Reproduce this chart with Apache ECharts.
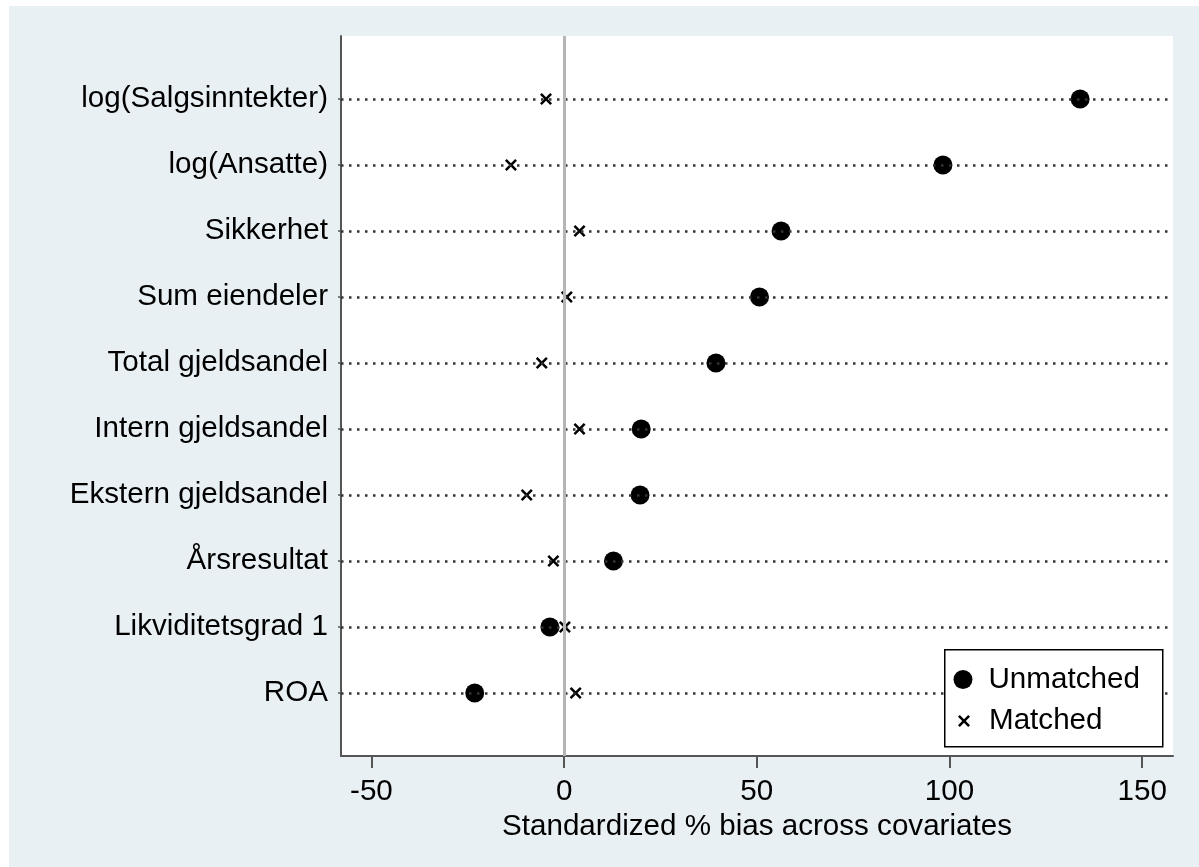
<!DOCTYPE html>
<html><head><meta charset="utf-8">
<script src="https://cdn.jsdelivr.net/npm/echarts@6/dist/echarts.min.js"></script>
<style>
html,body{margin:0;padding:0;background:#fff;}
#bg{position:absolute;left:9px;top:6px;width:1190px;height:861px;background:#e9f0f3;}
#c{position:absolute;left:0;top:0;width:1199px;height:867px;}
</style></head>
<body><div id="bg"></div><div id="c"></div>
<script>
const categories = ['log(Salgsinntekter)','log(Ansatte)','Sikkerhet','Sum eiendeler','Total gjeldsandel','Intern gjeldsandel','Ekstern gjeldsandel','Årsresultat','Likviditetsgrad 1','ROA'];
const unmatched = [133.9, 98.3, 56.3, 50.7, 39.4, 20.0, 19.7, 12.8, -3.7, -23.2];
const matched = [-4.7, -13.8, 4.0, 0.7, -5.8, 4.0, -9.7, -2.8, 0.2, 3.0];
const xTicks = [-50, 0, 50, 100, 150];
const xTitle = 'Standardized % bias across covariates';

const n = categories.length;
const rows = categories.map((c, i) => n - 1 - i);
const font = "'Liberation Sans', Arial, sans-serif";
const fs = 29.6;
const crossPath = 'path://M0,1.5 L1.5,0 L5,3.5 L8.5,0 L10,1.5 L6.5,5 L10,8.5 L8.5,10 L5,6.5 L1.5,10 L0,8.5 L3.5,5 Z';

const chart = echarts.init(document.getElementById('c'), null, {renderer: 'canvas'});
chart.setOption({
  backgroundColor: 'transparent',
  animation: false,
  textStyle: {fontFamily: font},
  grid: {left: 341, right: 26, top: 36, bottom: 111, show: true, backgroundColor: '#fff', borderWidth: 0},
  xAxis: {
    type: 'value', min: -57.9, max: 158,
    name: xTitle, nameLocation: 'middle', nameGap: 55,
    nameTextStyle: {fontSize: fs, color: '#000', fontFamily: font},
    axisLine: {show: true, onZero: false, lineStyle: {color: '#555', width: 2}},
    axisTick: {show: true, customValues: xTicks, length: 12, lineStyle: {color: '#555', width: 2}},
    axisLabel: {customValues: xTicks, fontSize: fs, color: '#000', margin: 21, fontFamily: font},
    splitLine: {show: false}
  },
  yAxis: {
    type: 'value', min: -0.955, max: 9.955,
    axisLine: {show: true, onZero: false, lineStyle: {color: '#555', width: 2}},
    axisTick: {show: true, customValues: rows, length: 3, lineStyle: {color: '#555', width: 1.5}},
    axisLabel: {customValues: rows, fontSize: fs, color: '#000', margin: 13, fontFamily: font,
      formatter: v => categories[n - 1 - Math.round(v)]},
    splitLine: {show: false}
  },
  legend: [
    {data: [{name: 'Unmatched', icon: 'circle'}], orient: 'vertical', left: 953.5, top: 664.5, padding: 0,
     itemWidth: 19, itemHeight: 19, textStyle: {fontSize: fs, color: '#000', fontFamily: font, padding: [0, 0, 0, 11]}, selectedMode: false, z: 20},
    {data: [{name: 'Matched', icon: crossPath}], orient: 'vertical', left: 958, top: 706, padding: 0,
     itemWidth: 12, itemHeight: 12, textStyle: {fontSize: fs, color: '#000', fontFamily: font, padding: [0, 0, 0, 14]}, selectedMode: false, z: 20}
  ],
  graphic: {
    z: 15,
    elements: [
      {type: 'rect', left: 944, top: 649, z: 15, shape: {width: 218, height: 97}, style: {fill: '#fff', stroke: '#000', lineWidth: 1.5}}
    ]
  },
  series: [
    {type: 'line', data: [], z: 1, silent: true,
     markLine: {silent: true, symbol: 'none', label: {show: false},
       lineStyle: {color: '#333', width: 2.5, type: [2.5, 5.5]},
       data: rows.map(r => ({yAxis: r}))}},
    {type: 'line', data: [], z: 1, silent: true,
     markLine: {silent: true, symbol: 'none', label: {show: false},
       lineStyle: {color: '#b5b5b5', width: 3, type: 'solid'},
       data: [{xAxis: 0}]}},
    {name: 'Unmatched', type: 'scatter', z: 3, symbol: 'circle', symbolSize: 19,
     itemStyle: {color: '#000', opacity: 1},
     data: unmatched.map((v, i) => [v, rows[i]])},
    {name: 'Matched', type: 'scatter', z: 3, symbol: crossPath, symbolSize: 12,
     itemStyle: {color: '#000', opacity: 1},
     data: matched.map((v, i) => [v, rows[i]])}
  ]
});
</script></body></html>
